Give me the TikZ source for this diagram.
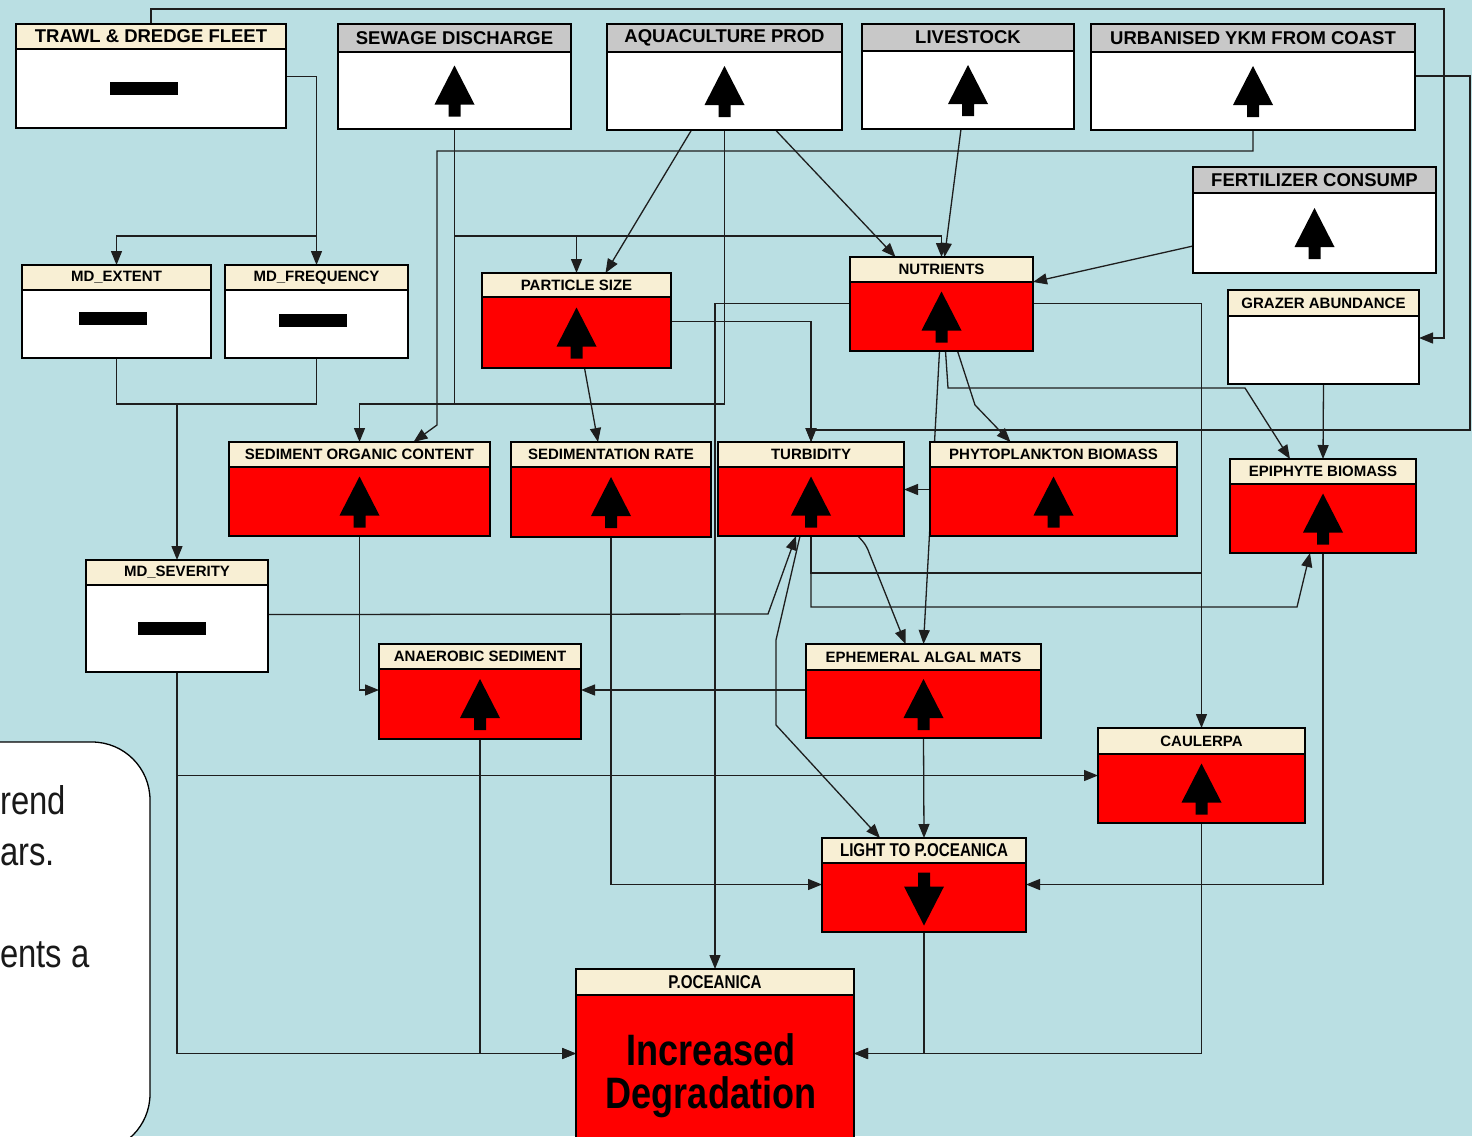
\documentclass[tikz,border=0pt]{standalone}
\usepackage{fontspec}
\setmainfont{Liberation Sans}
\newfontfamily\narrowsans[FakeStretch=0.82]{Liberation Sans}
\usetikzlibrary{arrows.meta}
\pgfdeclarelayer{back}
\pgfdeclarelayer{wires}
\pgfsetlayers{back,wires,main}

\definecolor{sea}{HTML}{BADFE3}
\definecolor{hdrbeige}{HTML}{F8EFD4}
\definecolor{hdrgrey}{HTML}{C8C8C8}
\definecolor{wirecol}{HTML}{1E1E1E}
\definecolor{alarmred}{HTML}{FF0000}

\newcommand\bigtitle{\fontsize{18.5}{20}\selectfont\bfseries}
\newcommand\smalltitle{\fontsize{15}{16}\selectfont\bfseries}
\newcommand\narrowtitle{\narrowsans\fontsize{18.5}{20}\selectfont\bfseries}

% variable box: name, x-left, y-top, y-split, x-right, y-bottom, header style, body style, header text
\newcommand\ebox[9]{%
  \node[bodybox,#8,minimum width={(#5-#2)*1pt},minimum height={(#6-#4)*1pt}]
    (#1) at ({(#2+#5)/2},{(#4+#6)/2}) {};
  \node[hdrbox,#7,minimum width={(#5-#2)*1pt},minimum height={(#4-#3)*1pt}]
    (#1T) at ({(#2+#5)/2},{(#3+#4)/2}) {#9};
}

\tikzset{
  hdrbox/.style={draw=black, line width=1.5pt, inner sep=0pt, outer sep=0pt,
                 fill=hdrbeige, font=\smalltitle, text=black},
  bodybox/.style={draw=black, line width=1.5pt, inner sep=0pt, outer sep=0pt},
  blank/.style={fill=white},
  alarm/.style={fill=alarmred},
  wire/.style={draw=wirecol, line width=1.3pt},
  link/.style={wire, -{Triangle[length=14pt,width=11pt]}},
  upsym/.pic={\fill[black] (0,-25) -- (20,14) -- (6,14) -- (6,26) -- (-6,26)
               -- (-6,14) -- (-20,14) -- cycle;},
  downsym/.pic={\fill[black] (0,28) -- (20,-11) -- (6,-11) -- (6,-25) -- (-6,-25)
               -- (-6,-11) -- (-20,-11) -- cycle;},
  barsym/.pic={\fill[black] (-34,-6.5) rectangle (34,6.5);},
}

\begin{document}
\begin{tikzpicture}[x=1pt,y=-1pt]
\useasboundingbox (0,0) rectangle (1472,1136);
\begin{pgfonlayer}{back}
  \fill[sea] (0,0) rectangle (1472,1136);
\end{pgfonlayer}

% note panel on the left
\draw[fill=white, line width=1.3pt, rounded corners=58pt] (-80,742) rectangle (150,1152);
\node[font=\narrowsans\fontsize{40}{44}\selectfont, anchor=base west, inner sep=0pt, text=black!90]
  (noteA) at (0,814) {rend};
\node[font=\narrowsans\fontsize{40}{44}\selectfont, anchor=base west, inner sep=0pt, text=black!90]
  (noteB) at (0,865) {ars.};
\node[font=\narrowsans\fontsize{40}{44}\selectfont, anchor=base west, inner sep=0pt, text=black!90]
  (noteC) at (0,967) {ents a};

% drivers
\ebox{trawl}{16}{24}{49}{286}{128}{font=\bigtitle}{blank}{TRAWL \& DREDGE FLEET}
\ebox{sew}{338}{24}{52}{571}{129}{fill=hdrgrey,font=\bigtitle}{blank}{SEWAGE DISCHARGE}
\ebox{aqua}{607}{24}{52}{842}{130}{fill=hdrgrey,font=\bigtitle}{blank}{AQUACULTURE PROD}
\ebox{live}{862}{24}{51}{1074}{129}{fill=hdrgrey,font=\bigtitle}{blank}{LIVESTOCK}
\ebox{urb}{1091}{24}{52}{1415}{130}{fill=hdrgrey,font=\bigtitle}{blank}{URBANISED YKM FROM COAST}
\ebox{fert}{1193}{167}{193}{1436}{273}{fill=hdrgrey,font=\bigtitle}{blank}{FERTILIZER CONSUMP}
\ebox{graz}{1228}{290}{316}{1419}{384}{}{blank}{GRAZER ABUNDANCE}

% pressures and states
\ebox{mdext}{22}{265}{290}{211}{358}{}{blank}{MD\_EXTENT}
\ebox{mdfreq}{225}{265}{290}{408}{358}{}{blank}{MD\_FREQUENCY}
\ebox{part}{482}{273}{297}{671}{368}{}{alarm}{PARTICLE SIZE}
\ebox{nutr}{850}{257}{282}{1033}{351}{}{alarm}{NUTRIENTS}
\ebox{soc}{229}{442}{467}{490}{536}{}{alarm}{SEDIMENT ORGANIC CONTENT}
\ebox{sedr}{511}{442}{467}{711}{537}{}{alarm}{SEDIMENTATION RATE}
\ebox{turb}{718}{442}{467}{904}{536}{}{alarm}{TURBIDITY}
\ebox{phyto}{930}{442}{467}{1177}{536}{}{alarm}{PHYTOPLANKTON BIOMASS}
\ebox{epi}{1230}{459}{484}{1416}{553}{}{alarm}{EPIPHYTE BIOMASS}
\ebox{mdsev}{86}{560}{585}{268}{672}{}{blank}{MD\_SEVERITY}
\ebox{anaer}{379}{644}{669}{581}{739}{}{alarm}{ANAEROBIC SEDIMENT}
\ebox{ephem}{806}{644}{670}{1041}{738}{}{alarm}{EPHEMERAL ALGAL MATS}
\ebox{caul}{1098}{728}{754}{1305}{823}{}{alarm}{CAULERPA}
\ebox{light}{822}{838}{863}{1026}{932}{font=\narrowtitle}{alarm}{LIGHT TO P.OCEANICA}
\ebox{poc}{576}{969}{995}{854}{1150}{font=\narrowtitle}{alarm}{P.OCEANICA}

\node[font=\narrowsans\fontsize{44}{44}\selectfont\bfseries, anchor=base, inner sep=0pt]
  (pocA) at (711,1065) {Increased};
\node[font=\narrowsans\fontsize{44}{44}\selectfont\bfseries, anchor=base, inner sep=0pt]
  (pocB) at (711,1108) {Degradation};

% trend symbols
\pic at ([xshift=-7pt]trawl.center) {barsym};
\pic at ([xshift=-4pt,yshift=6pt]mdext.center) {barsym};
\pic at ([xshift=-4pt,yshift=4pt]mdfreq.center) {barsym};
\pic at ([xshift=-5pt]mdsev.center) {barsym};
\foreach \n in {sew,aqua,live,urb,fert,part,nutr,soc,sedr,turb,phyto,epi,anaer,ephem,caul}
  \pic at (\n.center) {upsym};
\pic at (light.center) {downsym};

% causal links
\begin{pgfonlayer}{wires}
  \draw[link] (trawlT.north) |- (1444,9) |- ([yshift=12pt]graz.east);
  \draw[link] ([yshift=12pt]trawl.east) -| (mdfreqT.north);
  \draw[link] (mdfreqT.north|-0,236) -| (mdextT.north);

  \coordinate (jsev) at (mdsevT.north|-0,404);
  \draw[wire] (mdext.south) |- (jsev);
  \draw[wire] (mdfreq.south) |- (jsev);
  \draw[link] (jsev) -- (mdsevT.north);

  \draw[link] (sew.south) |- (socT.north|-0,404) -- (socT.north);
  \draw[link] (sew.south|-0,236) -| (partT.north);
  \draw[link] (sew.south|-0,236) -| (nutrT.north);

  \draw[wire] (aqua.south) |- (sew.south|-0,404);
  \draw[link] ([xshift=-33pt]aqua.south) -- ([xshift=29pt]partT.north);
  \draw[link] ([xshift=51pt]aqua.south) -- ([xshift=-46pt]nutrT.north);

  \draw[link] ([xshift=-7pt]live.south) -- ([xshift=3pt]nutrT.north);

  \draw[link] (urb.south) -- ++(0,21) -| (437,425) -- ([xshift=54pt]socT.north);
  \draw[link] ([yshift=15pt]urb.east) -| (1470,430) -| (turbT.north);

  \draw[link] ([yshift=-13pt]fert.west) -- (nutr.north east);

  \draw[link] ([yshift=11pt]part.east) -| (turbT.north);
  \draw[link] ([xshift=8pt]part.south) -- ([xshift=-13pt]sedrT.north);

  \draw[link] ([yshift=13pt]nutr.east) -| (caulT.north);
  \draw[link] ([yshift=13pt]nutr.west) -| (pocT.north);
  \draw[link] ([xshift=16pt]nutr.south) -- (975,405) -- ([xshift=-43pt]phytoT.north);
  \draw[link] ([xshift=4pt]nutr.south) -- (948,388) -- (1245,388) -- ([xshift=-33pt]epiT.north);
  \draw[link] ([xshift=-2pt]nutr.south) -- (ephemT.north);

  \draw[link] (graz.south) -- (epiT.north);
  \draw[link] ([yshift=12pt]phyto.west) -- ([yshift=12pt]turb.east);

  \draw[link,rounded corners=5pt] ([xshift=47pt]turb.south) -- (866,545) -- ([xshift=-18pt]ephemT.north);
  \draw[link] ([xshift=-11pt]turb.south) -- (776,640) -- (776,725) -- ([xshift=-44pt]lightT.north);
  \draw[wire] (turb.south) |- (caulT.north|-0,573);
  \draw[link] (turb.south) |- (1297,607) -- ([xshift=-13pt]epi.south);

  \draw[link] ([yshift=14pt]mdsev.east) -- (768,614) -- ([xshift=-15pt]turb.south);
  \draw[link] (mdsev.south) |- ([yshift=13pt]caul.west);
  \draw[link] (mdsev.south) |- ([yshift=19pt]poc.west);

  \draw[link] (soc.south) |- ([yshift=14pt]anaer.west);
  \draw[link] ([yshift=14pt]ephem.west) -- ([yshift=14pt]anaer.east);
  \draw[link] (anaer.south) |- ([yshift=19pt]poc.west);
  \draw[link] (sedr.south) |- ([yshift=13pt]light.west);
  \draw[link] (ephem.south) -- (lightT.north);
  \draw[link] (epi.south) |- ([yshift=13pt]light.east);
  \draw[link] (light.south) |- ([yshift=19pt]poc.east);
  \draw[link] (caul.south) |- ([yshift=19pt]poc.east);
\end{pgfonlayer}
\end{tikzpicture}
\end{document}
